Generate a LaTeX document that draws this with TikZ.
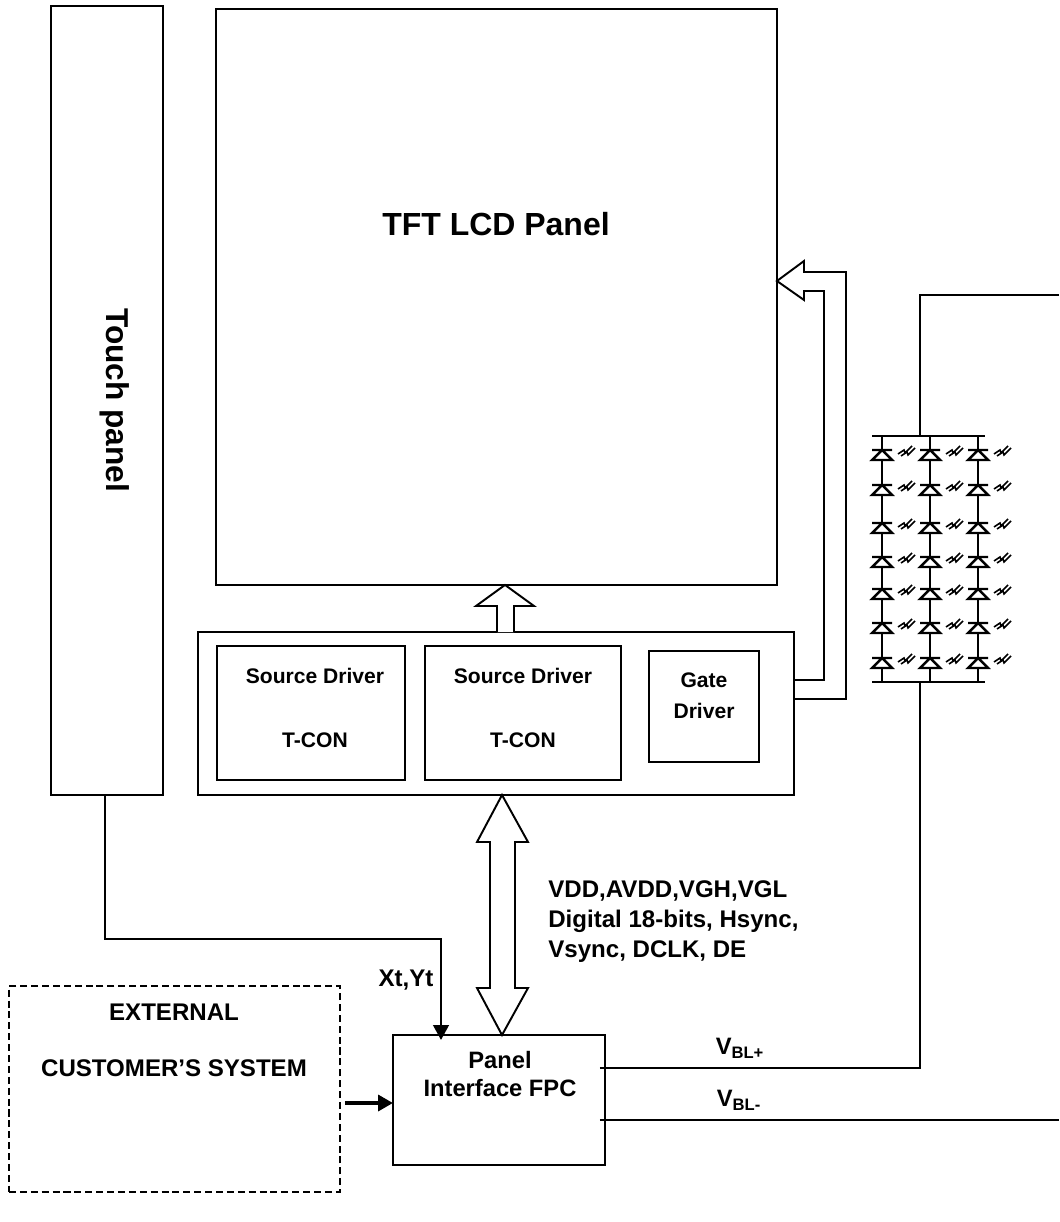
\documentclass[tikz,border=0pt]{standalone}
\usepackage{fontspec}
\setmainfont{Liberation Sans}
\usetikzlibrary{arrows.meta}
\tikzset{
	box/.style={draw,line width=1.1pt,inner sep=0pt,outer sep=0pt},
	lbl/.style={inner sep=0pt,font=\bfseries\fontsize{12}{14}\selectfont},
	lblbig/.style={inner sep=0pt,align=left,font=\bfseries\fontsize{13.7}{16}\selectfont},
	wire/.style={line width=1.1pt},
	bus/.style={line width=1.1pt,line join=miter,fill=white},
	led/.style={line width=1.4pt},
	photon/.style={line width=.9pt},
}
\begin{document}
\begin{tikzpicture}[x=.02cm,y=-.02cm,line cap=butt,line join=miter,>={Triangle[length=8.5pt,width=9pt]}]
	\useasboundingbox (0,0) rectangle (1059,1222);
	% boxes
	\node[box,minimum width=2.24cm,minimum height=15.78cm] (touch) at (107,400.5) {};
	\node[box,minimum width=11.22cm,minimum height=11.52cm] (panel) at (496.5,297) {};
	\node[box,minimum width=11.92cm,minimum height=3.26cm] (tcon) at (496,713.5) {};
	\node[box,minimum width=3.76cm,minimum height=2.68cm] (srcA) at (311,713) {};
	\node[box,minimum width=3.92cm,minimum height=2.68cm] (srcB) at (523,713) {};
	\node[box,minimum width=2.2cm,minimum height=2.22cm] (gate) at (704,706.5) {};
	\node[box,minimum width=4.24cm,minimum height=2.6cm] (fpc) at (499,1100) {};
	\node[box,dashed,dash pattern=on 4pt off 2.2pt,minimum width=6.62cm,minimum height=4.12cm] (ext) at (174.5,1089) {};
	% texts
	\node[lbl,font=\bfseries\fontsize{18.2}{20}\selectfont] (paneltxt) at (496,224) {TFT LCD Panel};
	\node[lbl,rotate=-90,font=\bfseries\fontsize{18}{20}\selectfont] (touchtxt) at (115,400) {Touch panel};
	\node[lbl] (srcAtxt) at (315,676) {Source Driver};
	\node[lbl] (conAtxt) at (315,740) {T-CON};
	\node[lbl] (srcBtxt) at (523,676) {Source Driver};
	\node[lbl] (conBtxt) at (523,740) {T-CON};
	\node[lbl,align=center,font=\bfseries\fontsize{12}{17.6}\selectfont] (gatetxt) at (704,696) {Gate\\Driver};
	\node[lblbig,align=center,font=\bfseries\fontsize{13.5}{16}\selectfont] (fpctxt) at (500,1074) {Panel\\Interface FPC};
	\node[lblbig,anchor=west,font=\bfseries\fontsize{13.7}{17.2}\selectfont] (sigtxt) at (548,921.5) {VDD,AVDD,VGH,VGL\\Digital 18-bits, Hsync,\\Vsync, DCLK, DE};
	\node[lblbig] (exttxtA) at (174,1012) {EXTERNAL};
	\node[lblbig] (exttxtB) at (174,1068) {CUSTOMER'S SYSTEM};
	\node[lblbig] (xytxt) at (406,980) {Xt,Yt};
	\node[lbl,font=\bfseries\fontsize{13.5}{15}\selectfont] (vptxt) at (740,1048) {V\textsubscript{BL+}};
	\node[lbl,font=\bfseries\fontsize{13.5}{15}\selectfont] (vmtxt) at (739,1100) {V\textsubscript{BL-}};
	% hollow arrows
	\draw[bus] (497,0 |- tcon.north)--(497,606)--(476,606)--(505,0 |- panel.south)--(534,606)--(514,606)--(514,0 |- tcon.north);
	\draw[bus] (502,0 |- tcon.south)--(477,842)--(490,842)--(490,988)--(477,988)--(502,0 |- fpc.north)--(528,988)--(515,988)--(515,842)--(528,842)--cycle;
	\draw[bus,fill=none] (tcon.east |- 0,680)--(824,680)--(824,291)--(804,291)--(804,300)--(panel.east |- 0,281)--(804,261)--(804,272)--(846,272)--(846,699)--(tcon.east |- 0,699);
	% connectors
	\draw[wire,->,shorten >=-2.8pt] (105,0 |- touch.south)--(105,939)--(441,939)--(441,0 |- fpc.north);
	\draw[line width=2.8pt,->] (ext.east |- 0,1103) ++(5,0)--(fpc.west |- 0,1103);
	\coordinate (topwire) at (1059,295);
	\coordinate (ledtop) at (920,436);
	\coordinate (ledbot) at (920,682);
	\coordinate (retwire) at (1059,1120);
	\draw[wire] (topwire)--(ledtop |- topwire)--(ledtop);
	\draw[wire] (fpc.east |- 0,1068) ++(-5,0)--(ledbot |- 0,1068)--(ledbot);
	\draw[wire] (fpc.east |- retwire) ++(-5,0)--(retwire);
	% led array
	\draw[led] (872,0 |- ledtop)--(985,0 |- ledtop) (872,0 |- ledbot)--(985,0 |- ledbot);
	\foreach \cx in {882,930,978}{
		\draw[led] (\cx,436)--(\cx,682);
		\foreach \cy in {450,485,523,557,589,623,658}{
			\draw[led,fill=white] (\cx-10,\cy)--(\cx+10,\cy) (\cx,\cy)--(\cx-10,\cy+10)--(\cx+10,\cy+10)--cycle;
			\draw[photon] (\cx+16,\cy+4)--(\cx+22,\cy)--(\cx+23,\cy+3)--(\cx+30,\cy-4);
			\draw[photon] (\cx+19,\cy+6)--(\cx+25,\cy+2)--(\cx+26,\cy+5)--(\cx+33,\cy-2);
		}
	}
\end{tikzpicture}
\end{document}
